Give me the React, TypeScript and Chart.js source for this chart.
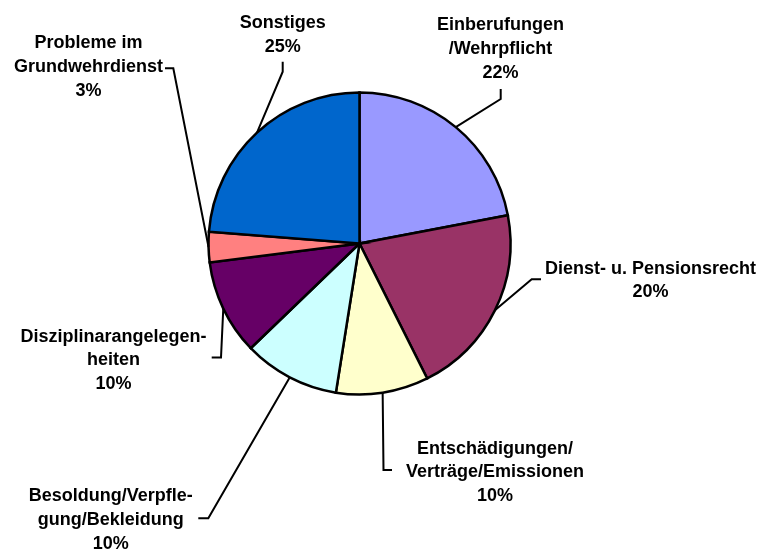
import React, { useEffect, useRef } from "react";
import { Chart, registerables } from "chart.js";

Chart.register(...registerables);

// ---- data ----
const categories = [
  "Einberufungen/Wehrpflicht",
  "Dienst- u. Pensionsrecht",
  "Entschädigungen/Verträge/Emissionen",
  "Besoldung/Verpflegung/Bekleidung",
  "Disziplinarangelegenheiten",
  "Probleme im Grundwehrdienst",
  "Sonstiges",
];
const values = [22.0, 20.6, 9.9, 10.3, 10.2, 3.25, 23.75];
const percentLabels = ["22%", "20%", "10%", "10%", "10%", "3%", "25%"];
const labelLines = [
  ["Einberufungen", "/Wehrpflicht"],
  ["Dienst- u. Pensionsrecht"],
  ["Entschädigungen/", "Verträge/Emissionen"],
  ["Besoldung/Verpfle-", "gung/Bekleidung"],
  ["Disziplinarangelegen-", "heiten"],
  ["Probleme im", "Grundwehrdienst"],
  ["Sonstiges"],
];

// ---- styles / layout ----
const colors = ["#9999FF", "#993366", "#FFFFCC", "#CCFFFF", "#660066", "#FF8080", "#0066CC"];

// label layout: text center x, first baseline y, leader elbow and end points
const labelLayout = [
  { tx: 500.5, ty: 30, elbow: [500.7, 99], end: [500.7, 89] },
  { tx: 650.5, ty: 273.5, elbow: [531.7, 279.3], end: [541, 279.3] },
  { tx: 495, ty: 453.5, elbow: [383.5, 470], end: [392, 470] },
  { tx: 110.8, ty: 501, elbow: [208.3, 518.3], end: [198.3, 518.3] },
  { tx: 113.5, ty: 341.5, elbow: [221, 357.5], end: [211.7, 357.5] },
  { tx: 88.5, ty: 48.3, elbow: [173.3, 68.3], end: [165, 68.3] },
  { tx: 282.7, ty: 28, elbow: [282.7, 71.7], end: [282.7, 61.7] },
];
const LINE_H = 23.8;
const FONT = "bold 18px 'Liberation Sans', Arial, sans-serif";

const labelPlugin = {
  id: "outerLabels",
  afterDatasetsDraw(chart: any) {
    const ctx = chart.ctx;
    const meta = chart.getDatasetMeta(0);
    ctx.save();
    meta.data.forEach((arc: any, i: number) => {
      const { x, y, startAngle, endAngle, outerRadius } = arc.getProps(
        ["x", "y", "startAngle", "endAngle", "outerRadius"],
        true
      );
      const mid = (startAngle + endAngle) / 2;
      const ex = x + Math.cos(mid) * outerRadius;
      const ey = y + Math.sin(mid) * outerRadius;
      const L = labelLayout[i];
      ctx.beginPath();
      ctx.strokeStyle = "#000";
      ctx.lineWidth = 2;
      ctx.lineJoin = "miter";
      ctx.moveTo(ex, ey);
      ctx.lineTo(L.elbow[0], L.elbow[1]);
      ctx.lineTo(L.end[0], L.end[1]);
      ctx.stroke();

      ctx.fillStyle = "#000";
      ctx.font = FONT;
      ctx.textAlign = "center";
      ctx.textBaseline = "alphabetic";
      const lines = [...labelLines[i], percentLabels[i]];
      lines.forEach((t, k) => {
        ctx.fillText(t, L.tx, L.ty + k * LINE_H);
      });
    });
    ctx.restore();
  },
};

export default function App() {
  const ref = useRef<HTMLCanvasElement | null>(null);
  useEffect(() => {
    if (!ref.current) return;
    const chart = new Chart(ref.current, {
      type: "pie",
      data: {
        labels: categories,
        datasets: [
          {
            data: values,
            backgroundColor: colors,
            borderColor: "#000",
            borderWidth: 2.5,
            borderJoinStyle: "miter" as any,
          },
        ],
      },
      options: {
        responsive: false,
        animation: false,
        radius: 151,
        layout: { padding: { left: 208, top: 92, right: 251, bottom: 156 } },
        plugins: {
          legend: { display: false },
          tooltip: { enabled: false },
        },
        events: [],
      } as any,
      plugins: [labelPlugin],
    });
    return () => chart.destroy();
  }, []);
  return (
    <div style={{ position: "absolute", left: 0, top: 0, width: 762, height: 551, background: "#fff" }}>
      <canvas ref={ref} width={762} height={551} style={{ display: "block" }} />
    </div>
  );
}
